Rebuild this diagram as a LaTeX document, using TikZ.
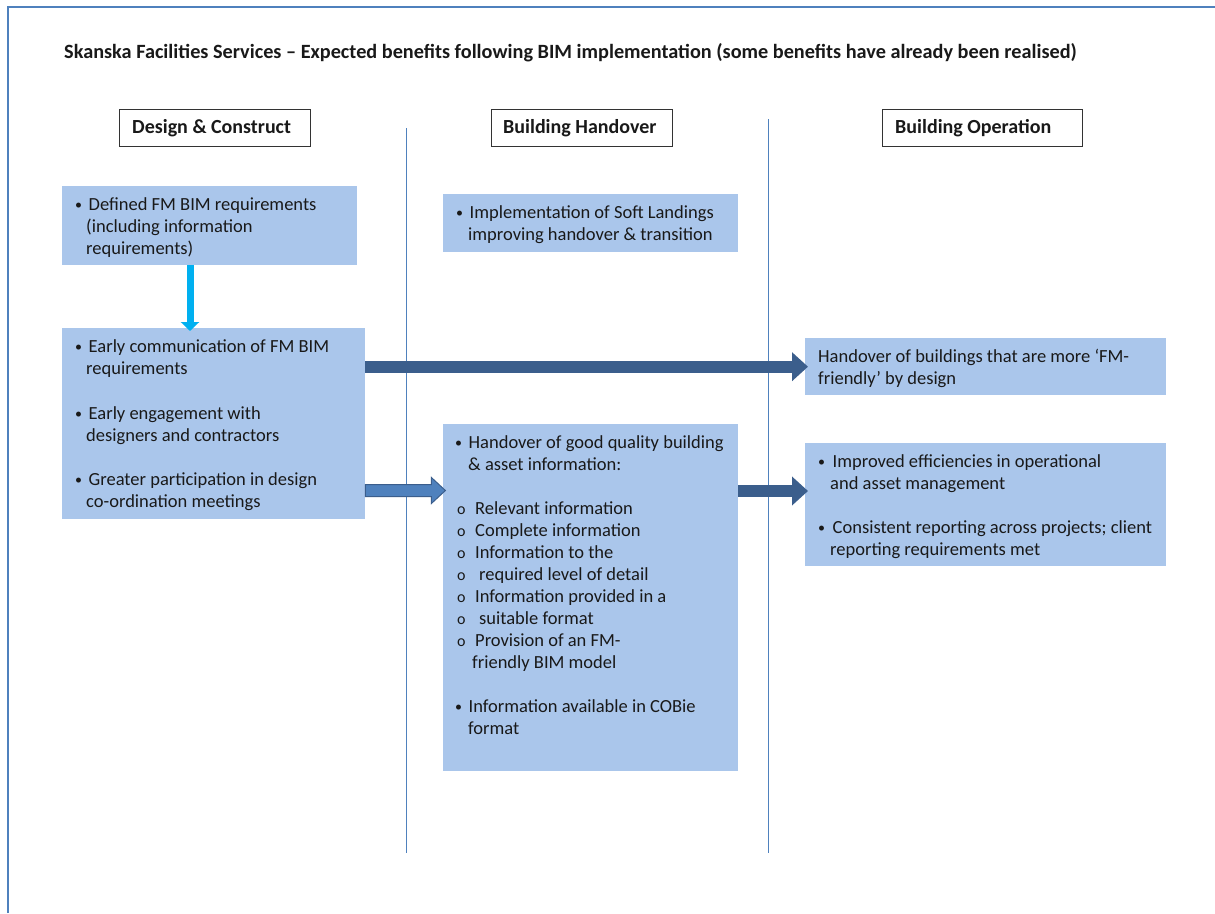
\documentclass[tikz,border=0pt]{standalone}
\usepackage{fontspec}
\setmainfont{Carlito}
\usetikzlibrary{arrows.meta,calc}
\definecolor{boxblue}{HTML}{AAC6EB}
\definecolor{frameblue}{HTML}{4F81BD}
\definecolor{darkarrow}{HTML}{3B5E8C}
\definecolor{cyanarrow}{HTML}{00B0F0}
\newcommand{\tl}[4]{\node[txt] (#1) at (#2,#3) {#4};}
\newcommand{\bul}{\makebox[13.5pt][l]{\raisebox{0.5pt}{\fontsize{14}{22}\selectfont •}}}
\newcommand{\ob}{\makebox[18pt][l]{\fontsize{16}{22}\selectfont o}}
\begin{document}
\begin{tikzpicture}[x=1pt,y=-1pt,
  txt/.style={anchor=base west, inner sep=0pt, font=\fontsize{18.5}{22}\selectfont, text=black!90},
  hdrtxt/.style={txt, font=\bfseries\fontsize{20}{24}\selectfont},
  box/.style={anchor=north west, inner sep=0pt, fill=boxblue, draw=none},
  hdr/.style={anchor=north west, inner sep=0pt, draw=black!80, line width=1.2pt, fill=white},
  vline/.style={draw=frameblue, line width=1pt},
  bigarrow/.style={draw=darkarrow, line width=12pt, -{Triangle[width=28pt,length=16pt]}},
  downarrow/.style={draw=cyanarrow, line width=7pt, -{Triangle[width=18pt,length=9pt]}},
]
\useasboundingbox (0,0) rectangle (1215,913);
\fill[white] (0,0) rectangle (1215,913);
\draw[frameblue, line width=2pt] (8,913) -- (8,7) -- (1215,7);

% title
\node[hdrtxt, font=\bfseries\fontsize{20.25}{24}\selectfont] (title) at (64,58) {Skanska Facilities Services – Expected benefits following BIM implementation (some benefits have already been realised)};

% headers
\node[hdr, minimum width=191, minimum height=37] (h1) at (119,109) {};
\node[hdrtxt] (h1t) at (132,133) {Design \& Construct};
\node[hdr, minimum width=181, minimum height=37] (h2) at (491,109) {};
\node[hdrtxt] (h2t) at (503,133) {Building Handover};
\node[hdr, minimum width=200, minimum height=37] (h3) at (882,109) {};
\node[hdrtxt] (h3t) at (895,133) {Building Operation};

% column separators
\draw[vline] (406,128) -- (406,853);
\draw[vline] (768,119) -- (768,853);

% boxes
\node[box, minimum width=295, minimum height=79] (A) at (62,186) {};
\node[box, minimum width=303, minimum height=191] (B) at (62,328) {};
\node[box, minimum width=295, minimum height=58] (C) at (443,194) {};
\node[box, minimum width=295, minimum height=347] (D) at (443,424) {};
\node[box, minimum width=361, minimum height=57] (E) at (805,338) {};
\node[box, minimum width=361, minimum height=123] (F) at (805,443) {};

% texts
\tl{a1}{75}{210}{\bul Defined FM BIM requirements}
\tl{a2}{86}{232}{(including information}
\tl{a3}{86}{254}{requirements)}

\tl{b1}{75}{352}{\bul Early communication of FM BIM}
\tl{b2}{86}{374}{requirements}
\tl{b3}{75}{419}{\bul Early engagement with}
\tl{b4}{86}{441}{designers and contractors}
\tl{b5}{75}{485}{\bul Greater participation in design}
\tl{b6}{86}{507}{co-ordination meetings}

\tl{c1}{456}{218}{\bul Implementation of Soft Landings}
\tl{c2}{468}{240}{improving handover \& transition}

\tl{d1}{455}{448}{\bul Handover of good quality building}
\tl{d2}{468}{470}{\& asset information:}
\tl{d3}{457}{514}{\ob Relevant information}
\tl{d4}{457}{536}{\ob Complete information}
\tl{d5}{457}{558}{\ob Information to the}
\tl{d6}{457}{580}{\ob\hspace{4pt}required level of detail}
\tl{d7}{457}{602}{\ob Information provided in a}
\tl{d8}{457}{624}{\ob\hspace{4pt}suitable format}
\tl{d9}{457}{646}{\ob Provision of an FM-}
\tl{d10}{472}{668}{friendly BIM model}
\tl{d11}{455}{712}{\bul Information available in COBie}
\tl{d12}{468}{734}{format}

\tl{e1}{818}{362}{Handover of buildings that are more ‘FM-}
\tl{e2}{818}{384}{friendly’ by design}

\tl{f1}{818}{467}{\bul\hspace{1pt}Improved efficiencies in operational}
\tl{f2}{830}{489}{and asset management}
\tl{f3}{818}{533}{\bul\hspace{1pt}Consistent reporting across projects; client}
\tl{f4}{830}{555}{reporting requirements met}

% connectors
\coordinate (r2) at (0,490.5);
\coordinate (r3) at (0,491);
\draw[downarrow] ($(A.south west)+(128,0)$) -- ($(B.north west)+(128,3)$);
\draw[bigarrow] (B.east |- E.west) -- ($(E.west)+(3,0)$);
\draw[bigarrow] (D.east |- r3) -- ($(F.west |- r3)+(3,0)$);
\draw[draw=darkarrow, fill=frameblue, line width=1pt, line join=miter]
  (B.east |- r2) ++(0,-6) -- ++(66,0) -- ++(0,-7) -- ++(14,13) -- ++(-14,13)
  -- ++(0,-7) -- ++(-66,0) -- cycle;
\end{tikzpicture}
\end{document}
